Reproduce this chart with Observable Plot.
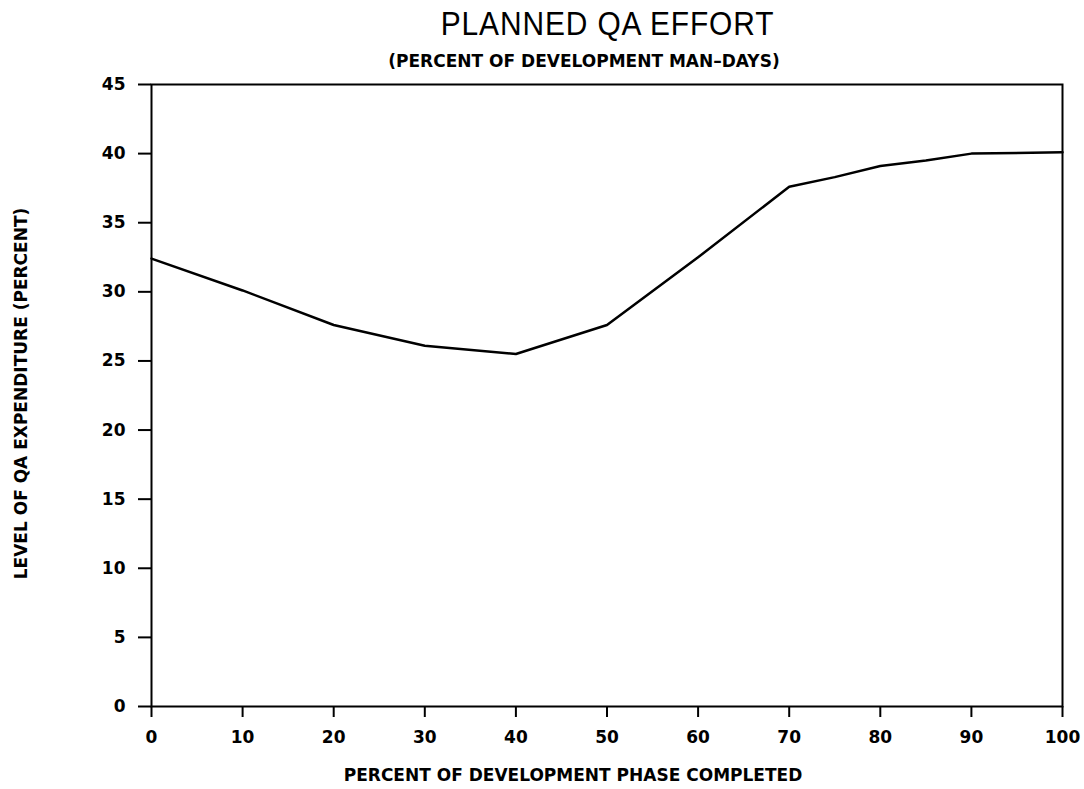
<!DOCTYPE html>
<html>
<head>
<meta charset="utf-8">
<script src="https://cdn.jsdelivr.net/npm/d3@7"></script>
<script src="https://cdn.jsdelivr.net/npm/@observablehq/plot@0.6"></script>
<style>
  html, body { margin: 0; padding: 0; background: #fff; }
  #wrap { width: 1084px; height: 789px; position: relative; overflow: hidden; }
  #title { position: absolute; left: 0; top: 3px; width: 1084px; text-align: center; line-height: 40px;
    font-family: "Liberation Sans", sans-serif; font-size: 34px; font-weight: normal; color: #000; }
  #title span { display: inline-block; transform: scaleX(0.88); letter-spacing: 1px; position: relative; left: 66px; }
  #subtitle { position: absolute; left: 0; top: 50px; width: 1084px; text-align: center; line-height: 22px;
    font-family: "DejaVu Sans", sans-serif; font-weight: bold; font-size: 17px; color: #000; }
  #subtitle span { display: inline-block; position: relative; left: 42px; }
  #chart { position: absolute; left: 0; top: 75px; }
</style>
</head>
<body>
<div id="wrap">
  <div id="title"><span>PLANNED QA EFFORT</span></div>
  <div id="subtitle"><span>(PERCENT OF DEVELOPMENT MAN&#8211;DAYS)</span></div>
  <div id="chart"></div>
</div>
<script>
const phase = [0, 10, 20, 30, 40, 50, 60, 70, 75, 80, 85, 90, 100];
const qaLevel = [32.4, 30.1, 27.6, 26.1, 25.5, 27.6, 32.5, 37.6, 38.3, 39.1, 39.5, 40.0, 40.1];
const xTicks = [0, 10, 20, 30, 40, 50, 60, 70, 80, 90, 100];
const yTicks = [0, 5, 10, 15, 20, 25, 30, 35, 40, 45];
const xLabel = "PERCENT OF DEVELOPMENT PHASE COMPLETED";
const yLabel = "LEVEL OF QA EXPENDITURE (PERCENT)";

const data = phase.map((p, i) => ({phase: p, level: qaLevel[i]}));

const chart = Plot.plot({
  width: 1084,
  height: 714,
  marginLeft: 151,
  marginRight: 22,
  marginTop: 9,
  marginBottom: 83,
  style: {fontFamily: "DejaVu Sans, sans-serif", fontWeight: "bold", fontSize: "17px", color: "#000", background: "#fff"},
  x: {domain: [0, 100]},
  y: {domain: [0, 45]},
  marks: [
    Plot.frame({stroke: "#000", strokeWidth: 2}),
    Plot.axisX({ticks: xTicks, tickSize: 11, tickPadding: 13, label: null, strokeWidth: 2, fontSize: 17}),
    Plot.axisY({ticks: yTicks, tickSize: 13, tickPadding: 13, label: null, strokeWidth: 2, fontSize: 17}),
    Plot.line(data, {x: "phase", y: "level", stroke: "#000", strokeWidth: 2.5}),
    Plot.text([xLabel], {frameAnchor: "bottom", dy: 74, dx: -34, textAnchor: "middle", text: d => d, fontSize: 17, fontWeight: "bold"}),
    Plot.text([yLabel], {frameAnchor: "left", dx: -130, dy: -2, rotate: -90, textAnchor: "middle", text: d => d, fontSize: 17, fontWeight: "bold"})
  ]
});
document.getElementById("chart").appendChild(chart);
</script>
</body>
</html>
